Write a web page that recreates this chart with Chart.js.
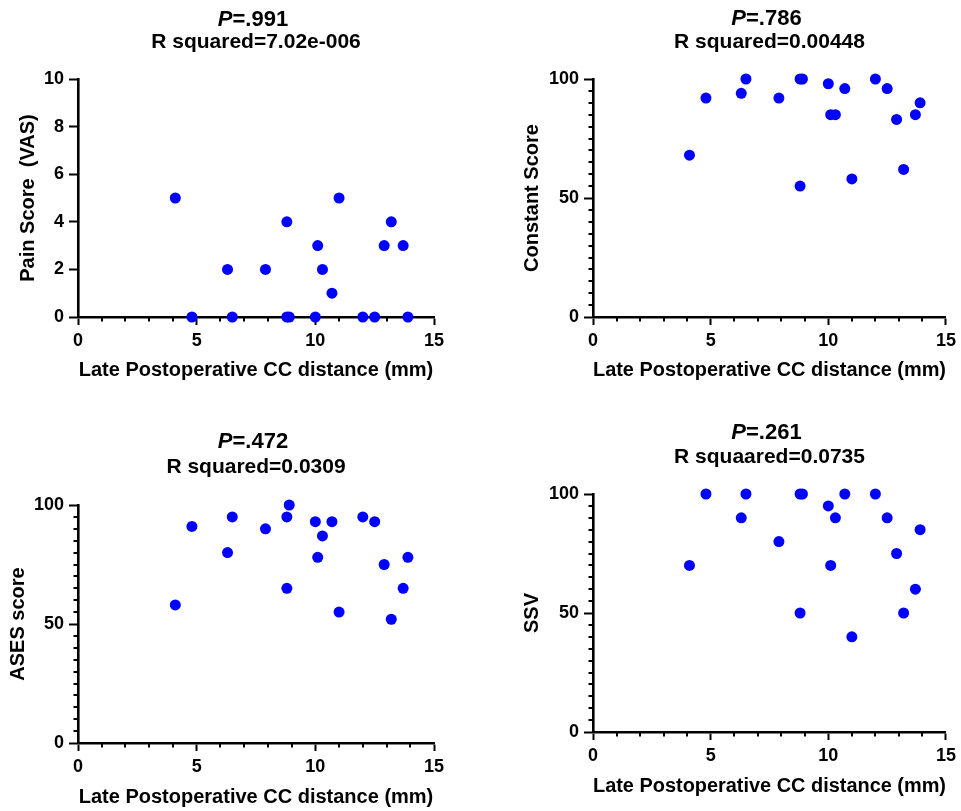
<!DOCTYPE html>
<html>
<head>
<meta charset="utf-8">
<title>Late postoperative CC distance vs. outcome scores</title>
<script src="https://cdn.jsdelivr.net/npm/chart.js@4.4.1/dist/chart.umd.min.js"></script>
<style>
	html, body { margin: 0; padding: 0; background: #fff; }
	body { width: 961px; height: 811px; position: relative; overflow: hidden; }
	canvas { position: absolute; }
</style>
</head>
<body>
<canvas id="chart-vas" width="480" height="400" style="left:0;top:0"></canvas>
<canvas id="chart-constant" width="481" height="400" style="left:480px;top:0"></canvas>
<canvas id="chart-ases" width="480" height="411" style="left:0;top:400px"></canvas>
<canvas id="chart-ssv" width="481" height="411" style="left:480px;top:400px"></canvas>
<script>
'use strict';

// Data (one value per patient, same order in every list)
var ccDistance     = [4.1, 4.8, 6.3, 6.5, 7.9, 8.8, 8.8, 8.9, 10.0, 10.1, 10.3, 10.7, 11.0, 12.0, 12.5, 12.9, 13.2, 13.7, 13.9];
var vasScores      = [5, 0, 2, 0, 2, 4, 0, 0, 0, 3, 2, 1, 5, 0, 0, 3, 4, 3, 0];
var constantScores = [68, 92, 94, 100, 92, 100, 55, 100, 98, 85, 85, 96, 58, 100, 96, 83, 62, 85, 90];
var asesScores     = [58, 91, 80, 95, 90, 95, 65, 100, 93, 78, 87, 93, 55, 95, 93, 75, 52, 65, 78];
var ssvScores      = [70, 100, 90, 100, 80, 100, 50, 100, 95, 70, 90, 100, 40, 100, 90, 75, 50, 60, 85];

// Labels
var pValues    = ['=.991', '=.786', '=.472', '=.261'];
var rSquared   = ['R squared=7.02e-006', 'R squared=0.00448', 'R squared=0.0309', 'R squaared=0.0735'];
var yTitles    = ['Pain Score  (VAS)', 'Constant Score', 'ASES score', 'SSV'];
var xTitle     = 'Late Postoperative CC distance (mm)';
var xTickLabels     = [0, 5, 10, 15];
var vasTickLabels   = [0, 2, 4, 6, 8, 10];
var scoreTickLabels = [0, 50, 100];

var FONT = "'Liberation Sans', Arial, Helvetica, sans-serif";
var BLUE = '#0000ff';
Chart.defaults.font.family = FONT;
Chart.defaults.color = '#000';

// Panel placement (canvas coordinates of the plot area, titles)
var panels = [
	{ id: 'chart-vas', values: vasScores, yMax: 10, yStep: 2, yLabels: vasTickLabels,
		area: { l: 78, t: 79, r: 434, b: 317 }, yTitleX: 28, xTitleY: 370, titleY: [20, 42] },
	{ id: 'chart-constant', values: constantScores, yMax: 100, yStep: 5, yLabels: scoreTickLabels,
		area: { l: 113, t: 79, r: 469, b: 317 }, yTitleX: 52, xTitleY: 370, titleY: [19, 42] },
	{ id: 'chart-ases', values: asesScores, yMax: 100, yStep: 5, yLabels: scoreTickLabels,
		area: { l: 78, t: 105, r: 434, b: 343 }, yTitleX: 18, xTitleY: 397, titleY: [42, 67] },
	{ id: 'chart-ssv', values: ssvScores, yMax: 100, yStep: 5, yLabels: scoreTickLabels,
		area: { l: 113, t: 94, r: 469, b: 332 }, yTitleX: 52, xTitleY: 386, titleY: [33, 57] }
];

/**
 * Short unlabeled ticks between the labeled ones.
 */
var minorTicks = {
	id: 'minorTicks',
	beforeDatasetsDraw: function(chart, args, opts) {
		var ctx = chart.ctx;
		var area = chart.chartArea;
		var xs = chart.scales.x;
		var ys = chart.scales.y;

		ctx.save();
		ctx.strokeStyle = '#000';
		ctx.lineWidth = 2;
		ctx.beginPath();
		xs.ticks.forEach(function(t) {
			if (xTickLabels.indexOf(t.value) === -1) {
				var px = Math.round(xs.getPixelForValue(t.value));
				ctx.moveTo(px, area.bottom);
				ctx.lineTo(px, area.bottom + opts.length);
			}
		});
		ys.ticks.forEach(function(t) {
			if (opts.yLabels.indexOf(t.value) === -1) {
				var py = Math.round(ys.getPixelForValue(t.value));
				ctx.moveTo(area.left, py);
				ctx.lineTo(area.left - opts.length, py);
			}
		});
		ctx.stroke();
		ctx.restore();
	}
};

/**
 * Two-line title with an italic P.
 */
var panelTitle = {
	id: 'panelTitle',
	afterDraw: function(chart, args, opts) {
		var ctx = chart.ctx;
		var area = chart.chartArea;
		var cx = (area.left + area.right) / 2;

		ctx.save();
		ctx.fillStyle = '#000';
		ctx.textBaseline = 'middle';
		ctx.textAlign = 'left';

		ctx.font = 'italic bold 22px ' + FONT;
		var wP = ctx.measureText('P').width;
		ctx.font = 'bold 22px ' + FONT;
		var wRest = ctx.measureText(opts.pText).width;
		var x0 = cx - (wP + wRest) / 2 - 3;
		ctx.font = 'italic bold 22px ' + FONT;
		ctx.fillText('P', x0, opts.y[0]);
		ctx.font = 'bold 22px ' + FONT;
		ctx.fillText(opts.pText, x0 + wP, opts.y[0]);

		ctx.font = 'bold 21px ' + FONT;
		ctx.textAlign = 'center';
		ctx.fillText(opts.rText, cx, opts.y[1]);
		ctx.restore();
	}
};

function buildChart(panel, idx) {
	var canvas = document.getElementById(panel.id);
	var a = panel.area;
	var titleLine = 20 * 1.2;
	var yBoxLeft = panel.yTitleX - titleLine / 2;
	var xBoxBottom = panel.xTitleY + titleLine / 2;
	var tickFont = { size: 18, weight: 'bold' };
	var titleFont = { size: 20, weight: 'bold' };

	var points = ccDistance.map(function(x, i) {
		return { x: x, y: panel.values[i] };
	});

	return new Chart(canvas, {
		type: 'scatter',
		data: {
			datasets: [{
				data: points,
				backgroundColor: BLUE,
				borderWidth: 0,
				pointRadius: 5.5,
				pointHoverRadius: 5.5,
				clip: false
			}]
		},
		options: {
			responsive: false,
			animation: false,
			devicePixelRatio: 1,
			events: [],
			layout: {
				padding: { left: yBoxLeft, top: a.t, right: canvas.width - a.r, bottom: canvas.height - xBoxBottom }
			},
			plugins: {
				legend: { display: false },
				tooltip: { enabled: false },
				minorTicks: { length: 4.5, yLabels: panel.yLabels },
				panelTitle: { pText: pValues[idx], rText: rSquared[idx], y: panel.titleY }
			},
			scales: {
				x: {
					type: 'linear',
					min: 0,
					max: 15,
					afterFit: function(s) { s.height = xBoxBottom - a.b; },
					border: { color: '#000', width: 2.6 },
					grid: {
						drawOnChartArea: false,
						tickLength: 8,
						tickWidth: 2,
						tickColor: function(c) {
							return xTickLabels.indexOf(c.tick.value) !== -1 ? '#000' : 'rgba(0,0,0,0)';
						}
					},
					ticks: {
						stepSize: 1,
						autoSkip: false,
						maxRotation: 0,
						padding: 5,
						color: '#000',
						font: tickFont,
						callback: function(v) { return xTickLabels.indexOf(v) !== -1 ? String(v) : ''; }
					},
					title: { display: true, text: xTitle, color: '#000', font: titleFont, padding: 0 }
				},
				y: {
					type: 'linear',
					min: 0,
					max: panel.yMax,
					afterFit: function(s) { s.width = a.l - yBoxLeft; },
					border: { color: '#000', width: 2.6 },
					grid: {
						drawOnChartArea: false,
						tickLength: 9,
						tickWidth: 2,
						tickColor: function(c) {
							return panel.yLabels.indexOf(c.tick.value) !== -1 ? '#000' : 'rgba(0,0,0,0)';
						}
					},
					ticks: {
						stepSize: panel.yStep,
						autoSkip: false,
						padding: 5,
						color: '#000',
						font: tickFont,
						callback: function(v) { return panel.yLabels.indexOf(v) !== -1 ? String(v) : ''; }
					},
					title: { display: true, text: yTitles[idx], color: '#000', font: titleFont, padding: 0 }
				}
			}
		},
		plugins: [minorTicks, panelTitle]
	});
}

panels.forEach(buildChart);
</script>
</body>
</html>
